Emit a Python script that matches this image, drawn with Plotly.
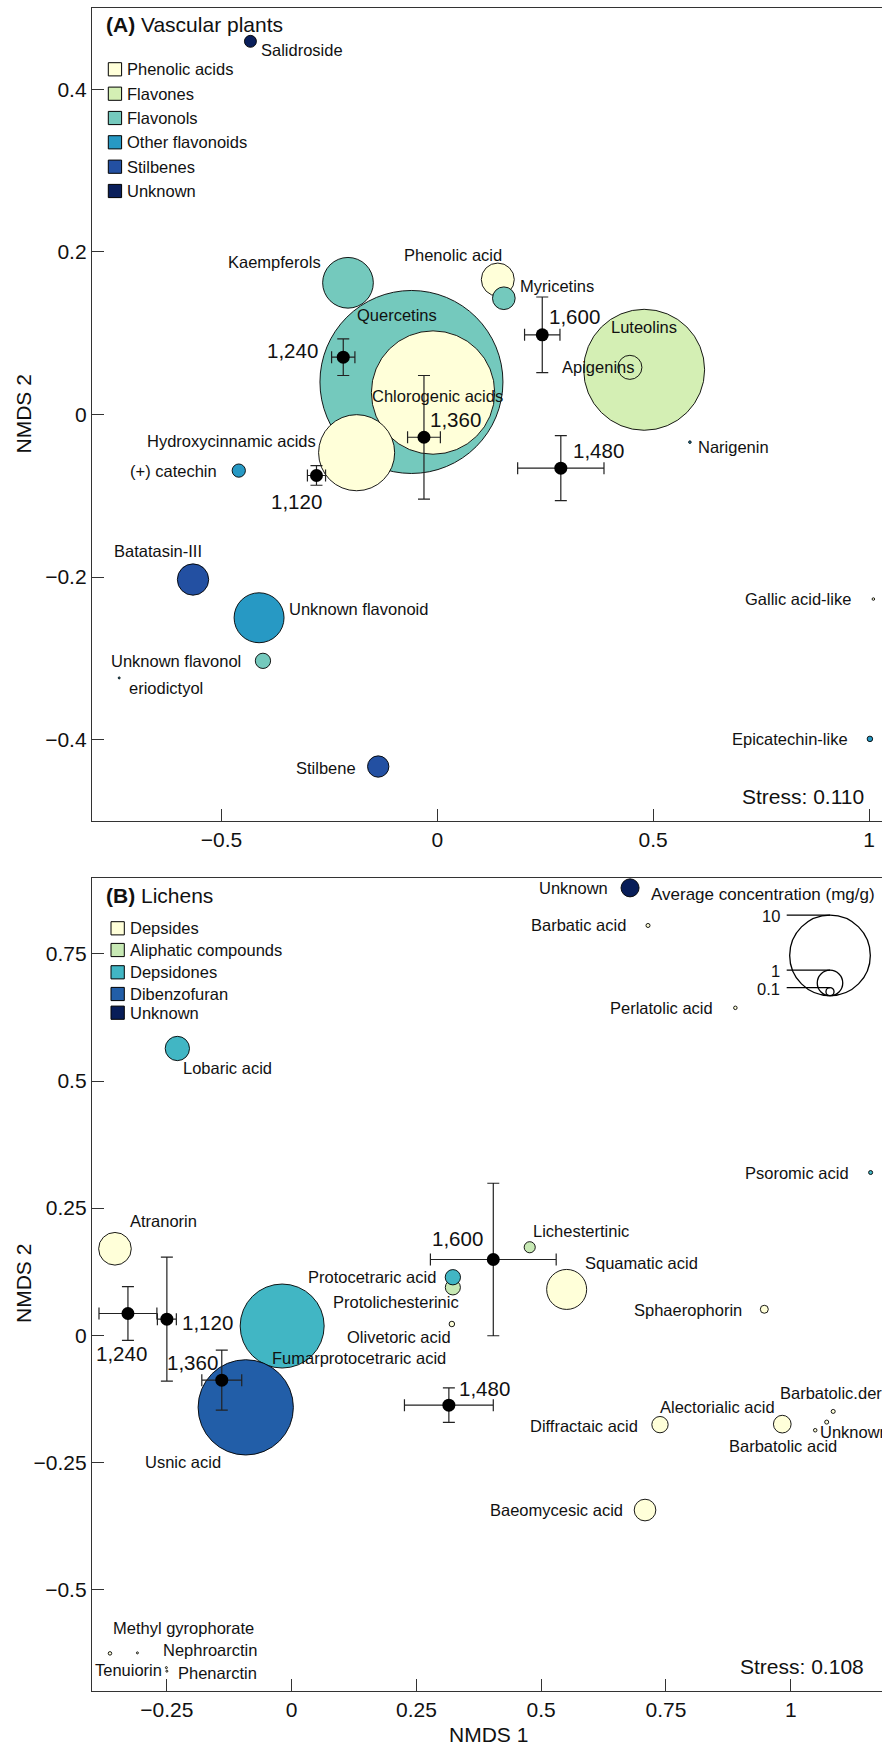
import math
import plotly.graph_objects as go

# ---------------- Panel A: vascular plants ----------------
a_names = ["Quercetins", "Chlorogenic acids", "Luteolins", "Hydroxycinnamic acids", "Kaempferols",
           "Unknown flavonoid", "Phenolic acid", "Batatasin-III", "Apigenins", "Myricetins",
           "Stilbene", "Unknown flavonol", "(+) catechin", "Salidroside", "Epicatechin-like",
           "Narigenin", "Gallic acid-like", "eriodictyol"]
a_x = [-0.060, -0.010, 0.479, -0.187, -0.207, -0.413, 0.140, -0.566, 0.446, 0.154,
       -0.137, -0.404, -0.460, -0.433, 1.002, 0.585, 1.010, -0.737]
a_y = [0.040, 0.027, 0.055, -0.047, 0.162, -0.250, 0.166, -0.203, 0.058, 0.143,
       -0.433, -0.303, -0.069, 0.459, -0.399, -0.034, -0.227, -0.324]
a_conc = [51.5, 23.4, 22.5, 8.9, 3.95, 3.84, 1.67, 1.51, 0.89, 0.79,
          0.70, 0.36, 0.27, 0.22, 0.047, 0.01, 0.01, 0.006]
a_class = ["Flavonols", "Phenolic acids", "Flavones", "Phenolic acids", "Flavonols",
           "Other flavonoids", "Phenolic acids", "Stilbenes", "Flavones", "Flavonols",
           "Stilbenes", "Flavonols", "Other flavonoids", "Unknown", "Other flavonoids",
           "Other flavonoids", "Phenolic acids", "Other flavonoids"]
a_categories = ["Phenolic acids", "Flavones", "Flavonols", "Other flavonoids", "Stilbenes", "Unknown"]

a_cent_names = ["1,120", "1,240", "1,360", "1,480", "1,600"]
a_cent_x = [-0.280, -0.218, -0.031, 0.286, 0.243]
a_cent_y = [-0.075, 0.0705, -0.028, -0.066, 0.098]
a_cent_xerr = [0.021, 0.027, 0.038, 0.100, 0.041]
a_cent_yerr = [0.012, 0.0225, 0.076, 0.040, 0.0465]

# ---------------- Panel B: lichens ----------------
b_names = ["Fumarprotocetraric acid", "Usnic acid", "Squamatic acid", "Atranorin", "Lobaric acid",
           "Baeomycesic acid", "Unknown", "Alectorialic acid", "Diffractaic acid", "Protolichesterinic",
           "Protocetraric acid", "Lichestertinic", "Sphaerophorin", "Olivetoric acid", "Barbatic acid",
           "Psoromic acid", "Perlatolic acid", "Barbatolic.der", "Barbatolic acid", "Unknown ",
           "Methyl gyrophorate", "Nephroarctin", "Tenuiorin", "Phenarctin"]
b_x = [-0.019, -0.092, 0.551, -0.354, -0.229, 0.708, 0.678, 0.983, 0.738, 0.323,
       0.323, 0.477, 0.947, 0.321, 0.714, 1.160, 0.889, 1.085, 1.072, 1.049,
       -0.364, -0.309, -0.251, -0.250]
b_y = [0.018, -0.142, 0.090, 0.170, 0.564, -0.344, 0.880, -0.175, -0.176, 0.094,
       0.114, 0.173, 0.051, 0.022, 0.806, 0.320, 0.644, -0.150, -0.171, -0.187,
       -0.626, -0.625, -0.654, -0.661]
b_conc = [10.85, 13.97, 2.46, 1.64, 0.91, 0.72, 0.50, 0.48, 0.41, 0.35,
          0.36, 0.19, 0.098, 0.047, 0.025, 0.025, 0.019, 0.025, 0.025, 0.019,
          0.019, 0.006, 0.006, 0.006]
b_class = ["Depsidones", "Dibenzofuran", "Depsides", "Depsides", "Depsidones",
           "Depsides", "Unknown", "Depsides", "Depsides", "Aliphatic compounds",
           "Depsidones", "Aliphatic compounds", "Depsides", "Depsides", "Depsides",
           "Depsidones", "Depsides", "Depsides", "Depsides", "Depsides",
           "Depsides", "Depsides", "Depsides", "Depsides"]
b_categories = ["Depsides", "Aliphatic compounds", "Depsidones", "Dibenzofuran", "Unknown"]

b_cent_names = ["1,120", "1,240", "1,360", "1,480", "1,600"]
b_cent_x = [-0.250, -0.328, -0.140, 0.315, 0.404]
b_cent_y = [0.0315, 0.0427, -0.0885, -0.1377, 0.1489]
b_cent_xerr = [0.019, 0.058, 0.040, 0.089, 0.126]
b_cent_yerr = [0.122, 0.053, 0.059, 0.034, 0.150]

size_key_values = [10, 1, 0.1]
size_key_labels = ["10", "1", "0.1"]

a_xticks = [-0.5, 0, 0.5, 1]
a_xtick_text = ["\u22120.5", "0", "0.5", "1"]
a_yticks = [-0.4, -0.2, 0, 0.2, 0.4]
a_ytick_text = ["\u22120.4", "\u22120.2", "0", "0.2", "0.4"]
b_xticks = [-0.25, 0, 0.25, 0.5, 0.75, 1]
b_xtick_text = ["\u22120.25", "0", "0.25", "0.5", "0.75", "1"]
b_yticks = [-0.5, -0.25, 0, 0.25, 0.5, 0.75]
b_ytick_text = ["\u22120.5", "\u22120.25", "0", "0.25", "0.5", "0.75"]

# ---------------- styles ----------------
FONT = "Liberation Sans, Arial, sans-serif"
a_colors = {"Phenolic acids": "#FFFFD9", "Flavones": "#D4EFB4", "Flavonols": "#74C9BD",
            "Other flavonoids": "#2799C4", "Stilbenes": "#2350A2", "Unknown": "#0A1F5B"}
b_colors = {"Depsides": "#FFFFD9", "Aliphatic compounds": "#C7E9B4", "Depsidones": "#41B6C4",
            "Dibenzofuran": "#225EA8", "Unknown": "#081D58"}
K = 25.5  # px diameter per sqrt(mg/g)

# label placement: (anchor, dx, dy) in px relative to the mark centre (dy down)
a_lab = {"Quercetins": ("center", -14, -67), "Chlorogenic acids": ("center", 4, 3),
         "Luteolins": ("center", 0, -43), "Hydroxycinnamic acids": ("right", -39, -12),
         "Kaempferols": ("right", -25, -21), "Unknown flavonoid": ("left", 28, -9),
         "Phenolic acid": ("center", -45, -25), "Batatasin-III": ("center", -35, -29),
         "Apigenins": ("center", -32, 0), "Myricetins": ("left", 14, -12),
         "Stilbene": ("right", -20, 1), "Unknown flavonol": ("right", -20, 0),
         "(+) catechin": ("right", -20, 0), "Salidroside": ("left", 9, 9),
         "Epicatechin-like": ("right", -20, 0), "Narigenin": ("left", 6, 5),
         "Gallic acid-like": ("right", -20, 0), "eriodictyol": ("left", 8, 10)}
a_cent_lab = {"1,120": ("center", -20, 26), "1,240": ("right", -23, -7), "1,360": ("left", 4, -18),
              "1,480": ("left", 10, -18), "1,600": ("left", 5, -18)}
b_lab = {"Fumarprotocetraric acid": ("left", -12, 32), "Usnic acid": ("center", -63, 55),
         "Squamatic acid": ("left", 16, -26), "Atranorin": ("left", 13, -28),
         "Lobaric acid": ("left", 4, 20), "Baeomycesic acid": ("right", -20, 0),
         "Unknown": ("right", -20, 0), "Alectorialic acid": ("right", -5, -17),
         "Diffractaic acid": ("right", -20, 1), "Protolichesterinic": ("right", 8, 15),
         "Protocetraric acid": ("right", -15, 0), "Lichestertinic": ("left", 1, -16),
         "Sphaerophorin": ("right", -20, 1), "Olivetoric acid": ("right", 1, 13),
         "Barbatic acid": ("right", -20, 0), "Psoromic acid": ("right", -20, 0),
         "Perlatolic acid": ("right", -20, 0), "Barbatolic.der": ("left", -55, -18),
         "Barbatolic acid": ("center", -44, 24), "Unknown ": ("left", 3, 2),
         "Methyl gyrophorate": ("center", 74, -25), "Nephroarctin": ("left", 24, -3),
         "Tenuiorin": ("right", -2, 2), "Phenarctin": ("left", 9, 2)}
b_cent_lab = {"1,120": ("left", 13, 3), "1,240": ("center", -6, 40), "1,360": ("center", -29, -18),
              "1,480": ("left", 8, -17), "1,600": ("right", -8, -21)}

# ---------------- geometry ----------------
W, H = 882, 1748
ML, MR, MT, MB = 92, 0, 8, 57
PW, PH = W - ML - MR, H - MT - MB


def pxx(x):
    return (x - ML) / PW


def pyy(y):
    return (H - MB - y) / PH


fig = go.Figure()


def add_panel(xr, yr, names, xs, ys, conc, cls, colors, cx, cy, cxe, cye, cnames):
    fig.add_trace(go.Scatter(
        x=xs, y=ys, mode="markers", xaxis=xr, yaxis=yr, showlegend=False, text=names,
        hoverinfo="text", cliponaxis=False,
        marker=dict(size=[max(K * math.sqrt(c), 2.0) for c in conc],
                    color=[colors[c] for c in cls],
                    line=dict(color="black", width=0.9), opacity=1)))
    fig.add_trace(go.Scatter(
        x=cx, y=cy, mode="markers", xaxis=xr, yaxis=yr, showlegend=False, text=cnames,
        hoverinfo="text",
        marker=dict(size=13, color="black"),
        error_x=dict(type="data", array=cxe, color="#222", thickness=1.2, width=6),
        error_y=dict(type="data", array=cye, color="#222", thickness=1.2, width=6)))


add_panel("x", "y", a_names, a_x, a_y, a_conc, a_class, a_colors,
          a_cent_x, a_cent_y, a_cent_xerr, a_cent_yerr, a_cent_names)
add_panel("x2", "y2", b_names, b_x, b_y, b_conc, b_class, b_colors,
          b_cent_x, b_cent_y, b_cent_xerr, b_cent_yerr, b_cent_names)

annotations = []
shapes = []


def point_labels(names, xs, ys, lab, xref, yref, size):
    for n, x, y in zip(names, xs, ys):
        anc, dx, dy = lab[n]
        annotations.append(dict(x=x, y=y, xref=xref, yref=yref, text=n.strip(), showarrow=False,
                                xanchor=anc, yanchor="middle", xshift=dx, yshift=-dy,
                                font=dict(family=FONT, size=size, color="#111")))


point_labels(a_names, a_x, a_y, a_lab, "x", "y", 16.5)
point_labels(a_cent_names, a_cent_x, a_cent_y, a_cent_lab, "x", "y", 20.5)
point_labels(b_names, b_x, b_y, b_lab, "x2", "y2", 16.5)
point_labels(b_cent_names, b_cent_x, b_cent_y, b_cent_lab, "x2", "y2", 20.5)


def text_px(x, y, text, size, anchor="left", angle=0):
    annotations.append(dict(x=pxx(x), y=pyy(y), xref="paper", yref="paper", text=text,
                            showarrow=False, xanchor=anchor, yanchor="middle", textangle=angle,
                            font=dict(family=FONT, size=size, color="#111")))


# titles, stress, axis titles
text_px(104, 25, "<b>(A)</b> Vascular plants", 21)
text_px(104, 896, "<b>(B)</b> Lichens", 21)
text_px(866, 796, "Stress: 0.110", 21, "right")
text_px(866, 1666, "Stress: 0.108", 21, "right")
text_px(23, 414.5, "NMDS 2", 21, "center", -90)
text_px(23, 1284, "NMDS 2", 21, "center", -90)
text_px(488, 1735, "NMDS 1", 21, "center")


# category legends
def cat_legend(cats, colors, xs, ys_rows, xt):
    for c, yc in zip(cats, ys_rows):
        shapes.append(dict(type="rect", xref="paper", yref="paper",
                           x0=pxx(xs), x1=pxx(xs + 13.3), y0=pyy(yc + 6.6), y1=pyy(yc - 6.6),
                           fillcolor=colors[c], line=dict(color="black", width=1)))
        text_px(xt, yc, c, 16.5)


cat_legend(a_categories, a_colors, 108.3, [69.3, 93.7, 118, 142.3, 166.7, 191], 124.5)
cat_legend(b_categories, b_colors, 111, [928.3, 950, 972.3, 994, 1012.7], 127.5)

# size legend
cxk, cbot = 830, 995.7
text_px(762.5, 894, "Average concentration (mg/g)", 17, "center")
for v, lbl in zip(size_key_values, size_key_labels):
    d = K * math.sqrt(v)
    shapes.append(dict(type="circle", xref="paper", yref="paper",
                       x0=pxx(cxk - d / 2), x1=pxx(cxk + d / 2), y0=pyy(cbot), y1=pyy(cbot - d),
                       fillcolor="rgba(0,0,0,0)", line=dict(color="black", width=1.3)))
    shapes.append(dict(type="line", xref="paper", yref="paper",
                       x0=pxx(786.7), x1=pxx(cxk), y0=pyy(cbot - d), y1=pyy(cbot - d),
                       line=dict(color="black", width=1.3)))
    text_px(782, cbot - d + 1, lbl, 16.5, "right")

axis_common = dict(ticks="inside", ticklen=12, tickwidth=1.3, tickcolor="#333", showline=True,
                   linecolor="#333", linewidth=1.3, showgrid=False, zeroline=False,
                   tickfont=dict(family=FONT, size=21, color="#111"))
a_dom = [pyy(821), 1.0]
b_dom = [0.0, pyy(877.7)]

fig.update_layout(
    width=W, height=H, margin=dict(l=ML, r=MR, t=MT, b=MB),
    paper_bgcolor="white", plot_bgcolor="white", showlegend=False,
    xaxis=dict(domain=[0, 1], anchor="y", range=[-0.8, 1.03], tickmode="array",
               tickvals=a_xticks, ticktext=a_xtick_text, mirror=True, **axis_common),
    yaxis=dict(domain=a_dom, anchor="x", range=[-0.5, 0.5], tickmode="array",
               tickvals=a_yticks, ticktext=a_ytick_text, **axis_common),
    xaxis2=dict(domain=[0, 1], anchor="y2", range=[-0.4, 1.1828], tickmode="array",
                tickvals=b_xticks, ticktext=b_xtick_text, mirror=True, **axis_common),
    yaxis2=dict(domain=b_dom, anchor="x2", range=[-0.7, 0.9], tickmode="array",
                tickvals=b_yticks, ticktext=b_ytick_text, **axis_common),
    annotations=annotations, shapes=shapes,
    font=dict(family=FONT, color="#111"),
)

fig.write_html(
    "out.html",
    config={"displayModeBar": False},
    post_script="document.body.style.margin='0';document.body.style.overflow='hidden';",
)
